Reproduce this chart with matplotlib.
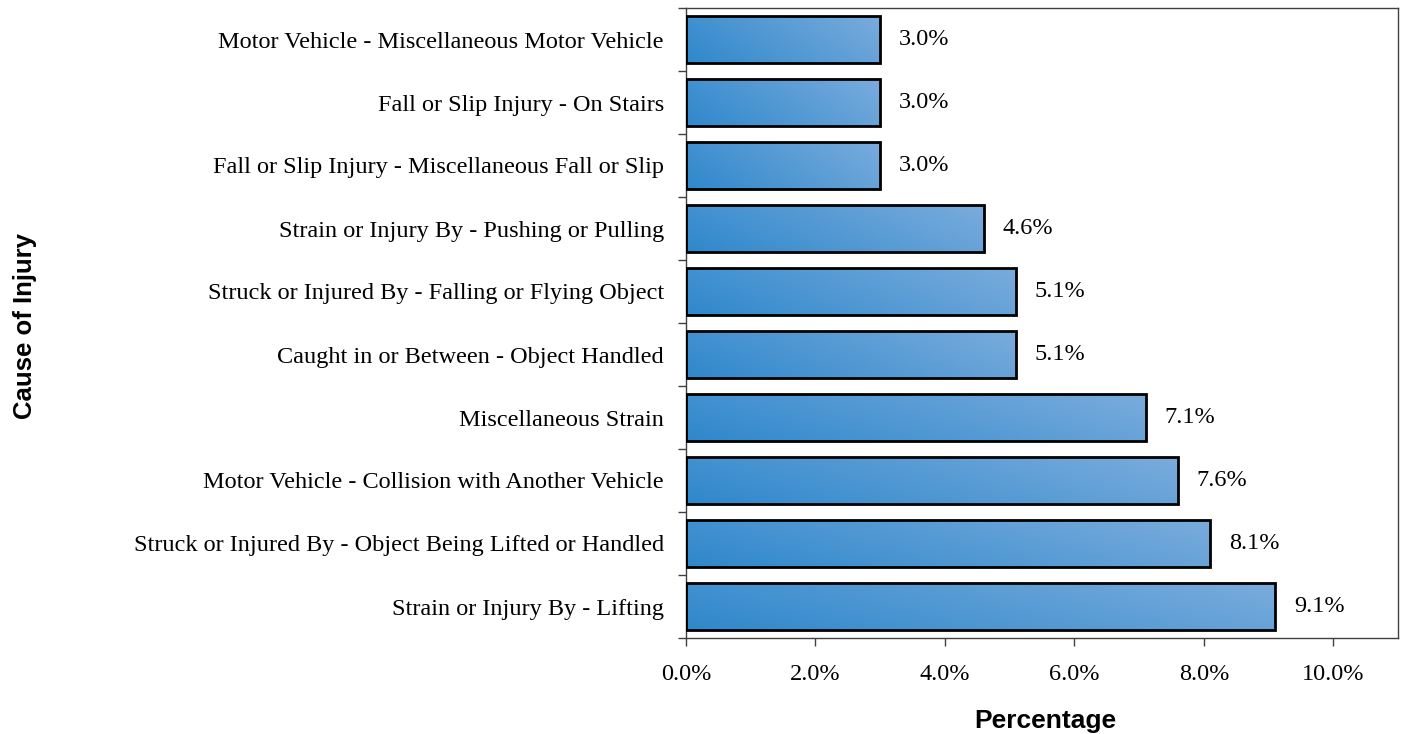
import numpy as np
from matplotlib import pyplot as plt
from matplotlib.colors import LinearSegmentedColormap

# Causes of injury, bottom to top
causes = [
    "Strain or Injury By - Lifting",
    "Struck or Injured By - Object Being Lifted or Handled",
    "Motor Vehicle - Collision with Another Vehicle",
    "Miscellaneous Strain",
    "Caught in or Between - Object Handled",
    "Struck or Injured By - Falling or Flying Object",
    "Strain or Injury By - Pushing or Pulling",
    "Fall or Slip Injury - Miscellaneous Fall or Slip",
    "Fall or Slip Injury - On Stairs",
    "Motor Vehicle - Miscellaneous Motor Vehicle",
]
percent = [9.1, 8.1, 7.6, 7.1, 5.1, 5.1, 4.6, 3.0, 3.0, 3.0]
xticks = [0, 2, 4, 6, 8, 10]

serif = "Liberation Serif"
sans = "Liberation Sans"
W, H = 1404, 734

fig = plt.figure(figsize=(W / 100, H / 100), dpi=100)
ax = fig.add_axes([686 / W, 96 / H, 712 / W, 630 / H])

y = np.arange(len(causes))
bars = ax.barh(y, percent, height=0.76, color="none", edgecolor="black",
               linewidth=2, zorder=3)

# diagonal blue gradient inside each bar
grad_cmap = LinearSegmentedColormap.from_list("blu", ["#2f88cc", "#7aacdc"])
gx, gy = np.meshgrid(np.linspace(0, 1, 200), np.linspace(0, 1, 50))
grad = 0.75 * gx + 0.25 * (1 - gy)
for b in bars:
    x0, y0 = b.get_x(), b.get_y()
    w, h = b.get_width(), b.get_height()
    im = ax.imshow(grad, cmap=grad_cmap, extent=[x0, x0 + w, y0, y0 + h],
                   origin="upper", aspect="auto", zorder=2,
                   interpolation="bilinear")
    im.set_clip_path(b)
    ax.text(x0 + w + 0.29, y0 + h / 2, f"{w:.1f}%", va="center", ha="left",
            fontsize=17.5, family=serif)

ax.set_xlim(0, 11)
ax.set_ylim(-0.5, len(causes) - 0.5)

ax.set_xticks(xticks)
ax.set_xticklabels([f"{v:.1f}%" for v in xticks], fontsize=17.5, family=serif)
ax.set_yticks(y)
ax.set_yticklabels(causes, fontsize=17.5, family=serif)
ax.set_yticks(np.arange(len(causes) + 1) - 0.5, minor=True)
ax.tick_params(axis="y", which="major", length=0, pad=16)
ax.tick_params(axis="y", which="minor", length=6, width=1, color="#404040")
ax.tick_params(axis="x", length=6, width=1, color="#404040", pad=13)

for s in ax.spines.values():
    s.set_color("#404040")
    s.set_linewidth(1)

fig.text(1045 / W, 1 - 721 / H, "Percentage", fontsize=19, fontweight="bold",
         family=sans, ha="center", va="center")
fig.text(25 / W, 1 - 326 / H, "Cause of Injury", rotation=90,
         fontsize=18.5, fontweight="bold", family=sans, ha="center", va="center")

fig.savefig("out.png", dpi=100)
plt.close(fig)
